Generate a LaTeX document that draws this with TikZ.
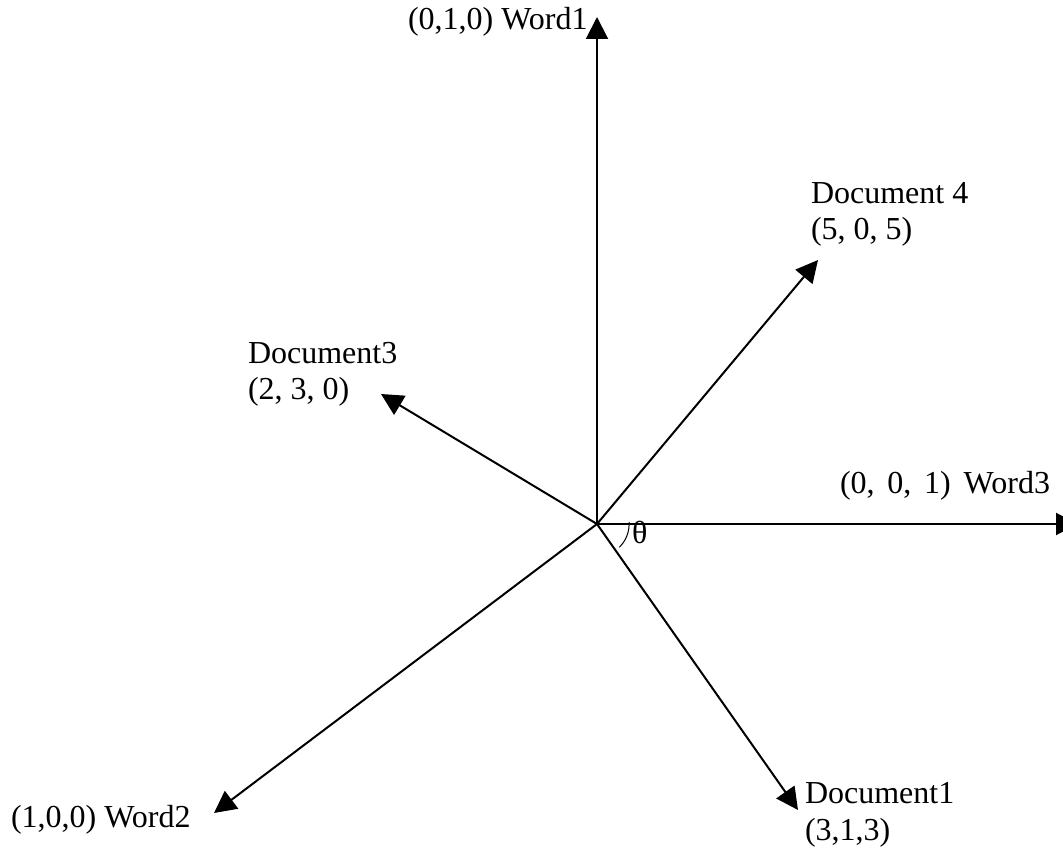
\documentclass[tikz,border=0pt]{standalone}
\usepackage{fontspec}
\setmainfont{Liberation Serif}
\usetikzlibrary{arrows.meta}
\begin{document}
\begin{tikzpicture}[x=1pt,y=-1pt,
  vec/.style={line width=2pt,-{Triangle[length=22pt,width=22pt]}},
  lbl/.style={anchor=base west,inner sep=0pt,outer sep=0pt,font=\fontsize{32}{38}\selectfont}]
\useasboundingbox (0,0) rectangle (1063,850);
\clip (0,0) rectangle (1063,850);
\fill[white] (0,0) rectangle (1063,850);
\coordinate (O) at (597,524);
\coordinate (w1) at (597,17);
\coordinate (w3) at (1078,524);
\coordinate (w2) at (214,813);
\coordinate (d1) at (798,810);
\coordinate (d3) at (381,394);
\coordinate (d4) at (818,260);
\draw[vec] (O) -- (w1);
\draw[vec] (O) -- (w3);
\draw[vec] (O) -- (w2);
\draw[vec] (O) -- (d1);
\draw[vec] (O) -- (d3);
\draw[vec] (O) -- (d4);
\draw[line width=1pt] (629,522) arc[start angle=-4,end angle=46,radius=32];
\node[lbl] (theta) at (632,543) {θ};
\node[lbl] (lw1) at (408,30) {(0,1,0) Word1};
\node[lbl] (lw3) at (840,493) {\spaceskip=0.4em (0, 0, 1) Word3};
\node[lbl] (lw2) at (11,827) {(1,0,0) Word2};
\node[lbl] (ld1a) at (805,803) {Document1};
\node[lbl] (ld1b) at (805,840) {(3,1,3)};
\node[lbl] (ld3a) at (248,363) {Document3};
\node[lbl] (ld3b) at (248,399) {(2, 3, 0)};
\node[lbl] (ld4a) at (811,204) {Document 4};
\node[lbl] (ld4b) at (811,240) {(5, 0, 5)};
\end{tikzpicture}
\end{document}
